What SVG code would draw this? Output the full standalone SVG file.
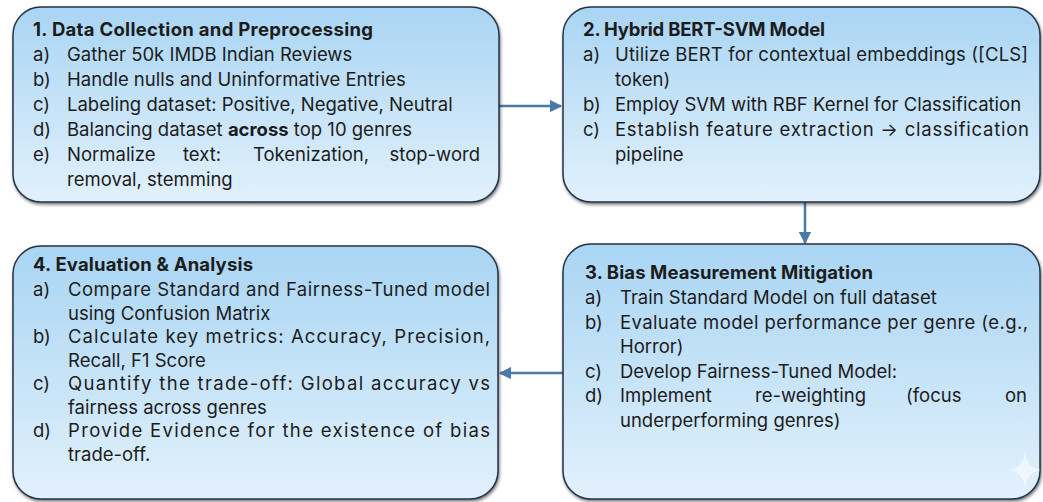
<svg xmlns="http://www.w3.org/2000/svg" width="1043" height="502" viewBox="0 0 1043 502">
<defs>
<linearGradient id="fill" x1="0" y1="0" x2="0" y2="1">
<stop offset="0" stop-color="#a9d5f3"/>
<stop offset="1" stop-color="#e2f1fc"/>
</linearGradient>
<filter id="sh" x="-5%" y="-5%" width="110%" height="115%">
<feDropShadow dx="1" dy="2" stdDeviation="1.5" flood-color="#1b2636" flood-opacity="0.6"/>
</filter>
<marker id="ah" viewBox="0 0 10 10" refX="9" refY="5" markerWidth="5" markerHeight="5" orient="auto" markerUnits="strokeWidth">
<path d="M0,0 L10,5 L0,10 z" fill="#4a78a8"/>
</marker>
<style>
.box{fill:url(#fill);stroke:#263244;stroke-width:1.5;filter:url(#sh)}
text{font-family:Inter,"Liberation Sans",sans-serif;font-size:18.5px;fill:#1c1c1c}
.t{font-weight:bold}
.c{stroke:#4a78a8;stroke-width:2.5;fill:none;marker-end:url(#ah)}
</style>
</defs>
<g id="connectors">
<line class="c" x1="499" y1="106" x2="561" y2="106"/>
<line class="c" x1="805" y1="202" x2="805" y2="243"/>
<line class="c" x1="563" y1="373" x2="500" y2="373"/>
</g>
<g id="n1">
<rect class="box" x="13" y="7" width="486" height="195" rx="28"/>
<text class="t" x="33" y="36" textLength="340" lengthAdjust="spacing">1. Data Collection and Preprocessing</text>
<text x="33" y="61">a)</text><text x="67" y="61">Gather 50k IMDB Indian Reviews</text>
<text x="33" y="86">b)</text><text x="67" y="86">Handle nulls and Uninformative Entries</text>
<text x="33" y="111">c)</text><text x="67" y="111">Labeling dataset: Positive, Negative, Neutral</text>
<text x="33" y="136">d)</text><text x="67" y="136">Balancing dataset <tspan class="t">across</tspan> top 10 genres</text>
<text x="33" y="161">e)</text><text y="161"><tspan x="67">Normalize</tspan><tspan x="183">text:</tspan><tspan x="253">Tokenization,</tspan><tspan x="480" text-anchor="end">stop-word</tspan></text>
<text x="67" y="186">removal, stemming</text>
</g>
<g id="n2">
<rect class="box" x="563" y="7" width="477" height="195" rx="28"/>
<text class="t" x="583" y="36" textLength="242" lengthAdjust="spacing">2. Hybrid BERT-SVM Model</text>
<text x="583" y="61">a)</text><text x="615" y="61" textLength="413" lengthAdjust="spacing">Utilize BERT for contextual embeddings ([CLS]</text>
<text x="615" y="86">token)</text>
<text x="583" y="111">b)</text><text x="615" y="111">Employ SVM with RBF Kernel for Classification</text>
<text x="583" y="136">c)</text><text x="615" y="136" textLength="414" lengthAdjust="spacing">Establish feature extraction → classification</text>
<text x="615" y="161">pipeline</text>
</g>
<g id="n3">
<rect class="box" x="563" y="244" width="477" height="255" rx="28"/>
<text class="t" x="585" y="279" textLength="288" lengthAdjust="spacing">3. Bias Measurement Mitigation</text>
<text x="585" y="304">a)</text><text x="620" y="304">Train Standard Model on full dataset</text>
<text x="585" y="328.5">b)</text><text x="620" y="328.5" textLength="408" lengthAdjust="spacing">Evaluate model performance per genre (e.g.,</text>
<text x="620" y="353">Horror)</text>
<text x="585" y="377.5">c)</text><text x="620" y="377.5">Develop Fairness-Tuned Model:</text>
<text x="585" y="402">d)</text><text y="402"><tspan x="620">Implement</tspan><tspan x="755">re-weighting</tspan><tspan x="906">(focus</tspan><tspan x="1027" text-anchor="end">on</tspan></text>
<text x="620" y="426.5">underperforming genres)</text>
</g>
<g id="n4">
<rect class="box" x="13" y="246" width="485" height="253" rx="28"/>
<text class="t" x="33" y="271" textLength="220" lengthAdjust="spacing">4. Evaluation &amp; Analysis</text>
<text x="33" y="296">a)</text><text x="68" y="296" textLength="422" lengthAdjust="spacing">Compare Standard and Fairness-Tuned model</text>
<text x="68" y="319.5">using Confusion Matrix</text>
<text x="33" y="343">b)</text><text x="68" y="343" textLength="422" lengthAdjust="spacing">Calculate key metrics: Accuracy, Precision,</text>
<text x="68" y="366.5">Recall, F1 Score</text>
<text x="33" y="390">c)</text><text x="68" y="390" textLength="422" lengthAdjust="spacing">Quantify the trade-off: Global accuracy vs</text>
<text x="68" y="413.5">fairness across genres</text>
<text x="33" y="437">d)</text><text x="68" y="437" textLength="422" lengthAdjust="spacing">Provide Evidence for the existence of bias</text>
<text x="68" y="460.5">trade-off.</text>
</g>
<path d="M1025,452 Q1027,468 1041,470 Q1027,472 1025,488 Q1023,472 1009,470 Q1023,468 1025,452 z" fill="#ffffff" opacity="0.55"/>
</svg>
